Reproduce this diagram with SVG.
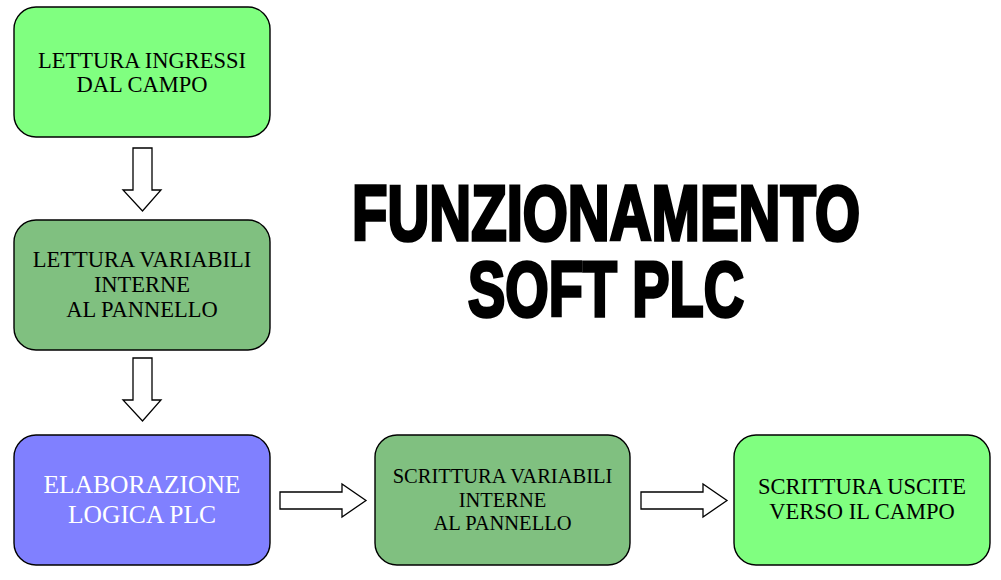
<svg xmlns="http://www.w3.org/2000/svg" width="1001" height="580" viewBox="0 0 1001 580">
<style>
.box{stroke:#000;stroke-width:1.4}
.lg{fill:#80FF80}
.dg{fill:#80C080}
.bl{fill:#8080FF}
.t{font-family:"Liberation Serif","Times New Roman",serif;text-anchor:middle;fill:#000}
.w{fill:#fff}
.arrow{fill:#fff;stroke:#000;stroke-width:1.3;stroke-linejoin:miter}
.title{font-family:"Liberation Sans",Arial,sans-serif;font-weight:bold;font-size:78px;fill:#000;stroke:#000;stroke-width:3.5;stroke-linejoin:miter}
</style>
<rect width="1001" height="580" fill="#fff"/>
<g id="connectors">
<path class="arrow" d="M133,148 H152 V190 H161 L142.5,211 L123,190 H133 Z"/>
<path class="arrow" d="M133,358 H152 V400 H161 L142.5,421 L123,400 H133 Z"/>
<path class="arrow" d="M280,492 H342 V484 L366,500.5 L342,517 V509 H280 Z"/>
<path class="arrow" d="M641,492 H703 V484 L727,500.5 L703,517 V509 H641 Z"/>
</g>
<g id="n1">
<rect class="box lg" x="14" y="7" width="256" height="130" rx="22"/>
<text class="t" font-size="22.5" x="142" y="68">LETTURA INGRESSI</text>
<text class="t" font-size="22.5" x="142" y="92">DAL CAMPO</text>
</g>
<g id="n2">
<rect class="box dg" x="14" y="220" width="256" height="130" rx="22"/>
<text class="t" font-size="22.5" x="142" y="267">LETTURA VARIABILI</text>
<text class="t" font-size="22.5" x="142" y="292">INTERNE</text>
<text class="t" font-size="22.5" x="142" y="317">AL PANNELLO</text>
</g>
<g id="n3">
<rect class="box bl" x="14" y="435" width="256" height="130" rx="22"/>
<text class="t w" font-size="25.5" x="142" y="493">ELABORAZIONE</text>
<text class="t w" font-size="25.5" x="142" y="523">LOGICA PLC</text>
</g>
<g id="n4">
<rect class="box dg" x="375" y="435" width="255" height="130" rx="22"/>
<text class="t" font-size="20.5" x="502.5" y="483">SCRITTURA VARIABILI</text>
<text class="t" font-size="20.5" x="502.5" y="507">INTERNE</text>
<text class="t" font-size="20.5" x="502.5" y="530">AL PANNELLO</text>
</g>
<g id="n5">
<rect class="box lg" x="734" y="435" width="256" height="130" rx="22"/>
<text class="t" font-size="22.5" x="862" y="494">SCRITTURA USCITE</text>
<text class="t" font-size="22.5" x="862" y="519">VERSO IL CAMPO</text>
</g>
<g id="title">
<text class="title" x="352" y="240" textLength="508" lengthAdjust="spacingAndGlyphs">FUNZIONAMENTO</text>
<text class="title" x="468" y="316" textLength="276" lengthAdjust="spacingAndGlyphs">SOFT PLC</text>
</g>
</svg>
